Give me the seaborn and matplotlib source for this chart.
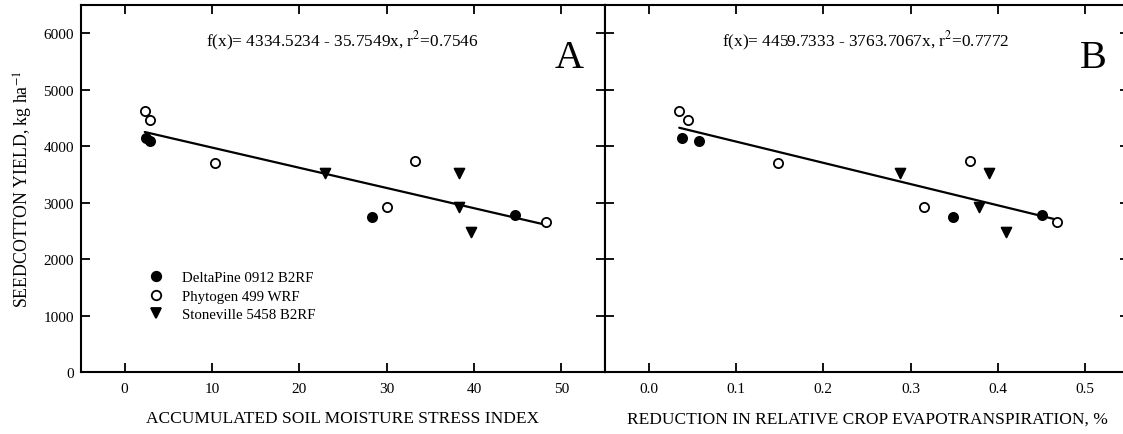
import numpy as np
import pandas as pd
import matplotlib
matplotlib.use("Agg")
import matplotlib.pyplot as plt
import seaborn as sns
from matplotlib.lines import Line2D

# Cultivars
cultivars = ["DeltaPine 0912 B2RF", "Phytogen 499 WRF", "Stoneville 5458 B2RF"]

# Seedcotton yield (kg/ha) per cultivar
yield_dp = [4140, 4085, 2755, 2780]
yield_phy = [4630, 4465, 3705, 3735, 2930, 2655]
yield_stv = [3528, 3528, 2920, 2490]

# Accumulated soil moisture stress index
smsi_dp = [2.4, 2.9, 28.3, 44.7]
smsi_phy = [2.3, 2.9, 10.3, 33.3, 30.0, 48.2]
smsi_stv = [22.9, 38.3, 38.3, 39.7]

# Reduction in relative crop evapotranspiration
ret_dp = [0.038, 0.058, 0.348, 0.450]
ret_phy = [0.035, 0.045, 0.148, 0.368, 0.315, 0.468]
ret_stv = [0.288, 0.390, 0.378, 0.409]

# Linear fits: intercept, slope, r^2
fit_a = (4334.5234, -35.7549, 0.7546)
fit_b = (4459.7333, -3763.7067, 0.7772)

sns.set_theme(style="ticks")
plt.rcParams["font.family"] = ["Liberation Serif", "DejaVu Serif"]
plt.rcParams["mathtext.fontset"] = "stix"
plt.rcParams["text.color"] = "black"
plt.rcParams["axes.labelcolor"] = "black"

df = pd.DataFrame({
    "cultivar": [cultivars[0]] * len(yield_dp) + [cultivars[1]] * len(yield_phy)
                + [cultivars[2]] * len(yield_stv),
    "yield": yield_dp + yield_phy + yield_stv,
    "smsi": smsi_dp + smsi_phy + smsi_stv,
    "ret": ret_dp + ret_phy + ret_stv,
})

styles = {
    cultivars[0]: dict(marker="o", facecolor="black", edgecolor="black", s=44),
    cultivars[1]: dict(marker="o", facecolor="white", edgecolor="black", s=44),
    cultivars[2]: dict(marker="v", facecolor="black", edgecolor="black", s=50),
}

W, H = 1123, 435
fig = plt.figure(figsize=(W / 100, H / 100), dpi=100)
ax_h = (373.3 - 6) / H
ax_b = (H - 373.3) / H
ax_w = 524 / W
axA = fig.add_axes([81 / W, ax_b, ax_w, ax_h])
axB = fig.add_axes([605 / W, ax_b, ax_w, ax_h])


def draw_panel(ax, xcol, fit, xlim, xticks, xfmt, xlabel, letter):
    b0, b1, r2 = fit
    for cv in cultivars:
        sub = df[df["cultivar"] == cv]
        st = styles[cv]
        sns.scatterplot(data=sub, x=xcol, y="yield", ax=ax, marker=st["marker"],
                        s=st["s"], facecolor=st["facecolor"], edgecolor=st["edgecolor"],
                        linewidth=1.3, zorder=3, legend=False)
    xs = np.array([df[xcol].min(), df[xcol].max()])
    line = pd.DataFrame({"x": xs, "y": b0 + b1 * xs})
    sns.lineplot(data=line, x="x", y="y", ax=ax, color="black", linewidth=1.6, zorder=2)
    ax.set_xlim(*xlim)
    ax.set_ylim(0, 6500)
    ax.set_xticks(xticks)
    ax.set_xticklabels([xfmt.format(t) for t in xticks])
    ax.set_yticks(np.arange(0, 6001, 1000))
    ax.tick_params(direction="in", length=6.5, width=1.3, top=True, right=True,
                   labelsize=11, colors="black", pad=7)
    ax.tick_params(axis="y", pad=5)
    for sp in ax.spines.values():
        sp.set_linewidth(1.5)
        sp.set_color("black")
        sp.set_visible(True)
    ax.set_xlabel(xlabel, fontsize=12.5, labelpad=11)
    ax.set_ylabel("")
    sign = "-" if b1 < 0 else "+"
    eq = f"f(x)= {b0:.4f} {sign} {abs(b1):.4f}x, r$^2$={r2:.4f}"
    ax.text(0.498, 0.905, eq, transform=ax.transAxes, ha="center", va="center",
            fontsize=12.4, color="black")
    ax.text(0.932, 0.858, letter, transform=ax.transAxes, ha="center", va="center",
            fontsize=29, color="black")


draw_panel(axA, "smsi", fit_a, (-5, 55), np.arange(0, 51, 10), "{:.0f}",
           "ACCUMULATED SOIL MOISTURE STRESS INDEX", "A")
draw_panel(axB, "ret", fit_b, (-0.05, 0.55), np.round(np.arange(0, 0.51, 0.1), 1),
           "{:.1f}", "REDUCTION IN RELATIVE CROP EVAPOTRANSPIRATION, %", "B")

axA.set_ylabel("SEEDCOTTON YIELD, kg ha$^{-1}$", fontsize=12.8, labelpad=6)
axB.tick_params(axis="y", labelleft=False)

handles = [Line2D([], [], linestyle="none", marker=styles[cv]["marker"],
                  markerfacecolor=styles[cv]["facecolor"],
                  markeredgecolor=styles[cv]["edgecolor"], markeredgewidth=1.3,
                  markersize=6.8)
           for cv in cultivars]
axA.legend(handles, cultivars, loc="upper left", bbox_to_anchor=(0.115, 0.296),
           frameon=False, fontsize=10.7, handlelength=1.0, handletextpad=1.25,
           labelspacing=0.33, borderpad=0)

fig.savefig("out.png", dpi=100)
